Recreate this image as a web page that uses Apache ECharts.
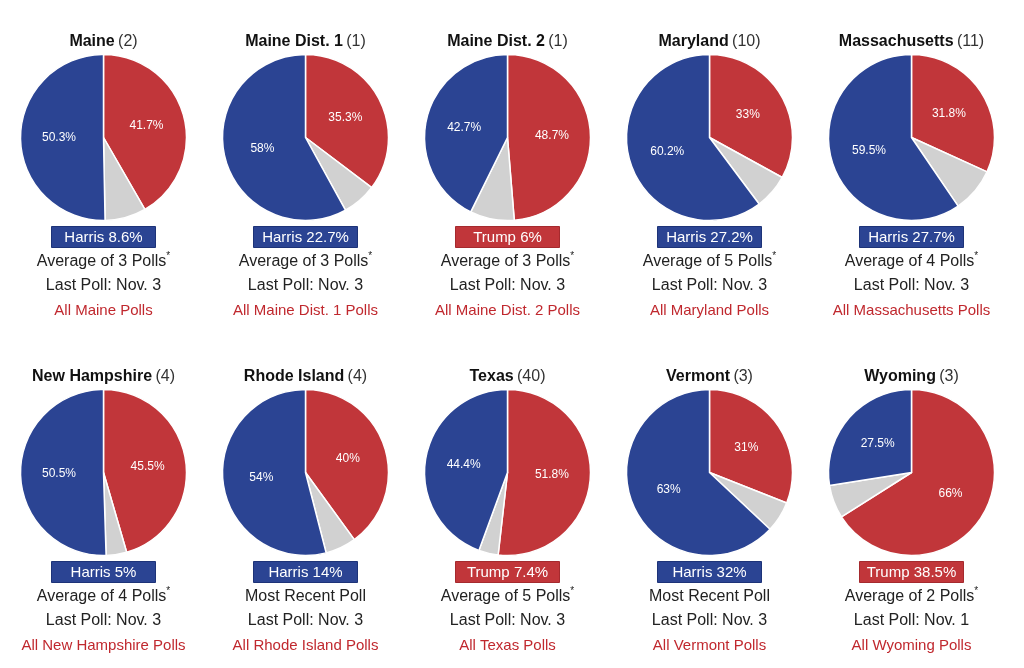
<!DOCTYPE html>
<html>
<head>
<meta charset="utf-8">
<script src="https://cdn.jsdelivr.net/npm/echarts@6/dist/echarts.min.js"></script>
<style>
html,body{margin:0;padding:0;background:#fff;}
#chart{width:1024px;height:668px;}
</style>
</head>
<body>
<div id="chart"></div>
<script>
const states = ['Maine','Maine Dist. 1','Maine Dist. 2','Maryland','Massachusetts','New Hampshire','Rhode Island','Texas','Vermont','Wyoming'];
const electoralVotes = [2,1,1,10,11,4,4,40,3,3];
const trump = [41.7,35.3,48.7,33,31.8,45.5,40,51.8,31,66];
const harris = [50.3,58,42.7,60.2,59.5,50.5,54,44.4,63,27.5];
const pollNotes = ['Average of 3 Polls','Average of 3 Polls','Average of 3 Polls','Average of 5 Polls','Average of 4 Polls','Average of 4 Polls','Most Recent Poll','Average of 5 Polls','Most Recent Poll','Average of 2 Polls'];
const lastPoll = ['Nov. 3','Nov. 3','Nov. 3','Nov. 3','Nov. 3','Nov. 3','Nov. 3','Nov. 3','Nov. 3','Nov. 1'];

const RED = '#c1363a', BLUE = '#2b4493', GRAY = '#d1d1d1';
const FONT = '"Liberation Sans", Arial, sans-serif';

const colX = [103.5, 305.5, 507.5, 709.5, 911.5];
const rowY = [0, 335];

function fmt(v){ return String(+v.toFixed(1)); }

const series = [];
const graphics = [];
states.forEach((name, i) => {
  const cx = colX[i % 5];
  const oy = rowY[Math.floor(i / 5)];
  const other = +(100 - trump[i] - harris[i]).toFixed(1);
  series.push({
    type: 'pie',
    center: [cx, oy + 137.5],
    radius: [0, 83],
    startAngle: 90,
    clockwise: true,
    silent: true,
    animation: false,
    itemStyle: { borderColor: '#fff', borderWidth: 1.5 },
    label: {
      show: true, position: 'inside', color: '#fff', fontSize: 12, fontFamily: FONT,
      formatter: p => p.name === 'Other' ? '' : fmt(p.value) + '%'
    },
    labelLine: { show: false },
    data: [
      { name: 'Trump', value: trump[i], itemStyle: { color: RED } },
      { name: 'Other', value: other, itemStyle: { color: GRAY } },
      { name: 'Harris', value: harris[i], itemStyle: { color: BLUE } }
    ]
  });
  // title
  graphics.push({
    type: 'text', x: cx, y: oy + 42,
    style: {
      text: '{b|' + name + '} {n|(' + electoralVotes[i] + ')}',
      align: 'center', verticalAlign: 'middle',
      rich: {
        b: { fontWeight: 'bold', fontSize: 16, fontFamily: FONT, fill: '#111' },
        n: { fontSize: 16, fontFamily: FONT, fill: '#333' }
      }
    }
  });
  // badge
  const harrisWins = harris[i] > trump[i];
  const margin = Math.abs(harris[i] - trump[i]);
  graphics.push({
    type: 'rect',
    shape: { x: cx - 52, y: oy + 226.5, width: 104, height: 21 },
    style: { fill: harrisWins ? BLUE : RED, stroke: harrisWins ? '#1d3378' : '#a52a2e', lineWidth: 1 }
  });
  graphics.push({
    type: 'text', x: cx, y: oy + 237.5,
    style: {
      text: (harrisWins ? 'Harris ' : 'Trump ') + fmt(margin) + '%',
      align: 'center', verticalAlign: 'middle',
      fill: '#fff', fontSize: 15, fontFamily: FONT
    }
  });
  // note
  const isAvg = pollNotes[i].indexOf('Average') === 0;
  graphics.push({
    type: 'text', x: cx, y: oy + 261.5,
    style: {
      text: '{t|' + pollNotes[i] + '}' + (isAvg ? '{s|*}' : ''),
      align: 'center', verticalAlign: 'middle',
      rich: {
        t: { fontSize: 16, fontFamily: FONT, fill: '#222', lineHeight: 20 },
        s: { fontSize: 10, fontFamily: FONT, fill: '#222', verticalAlign: 'top', lineHeight: 20 }
      }
    }
  });
  graphics.push({
    type: 'text', x: cx, y: oy + 286,
    style: {
      text: 'Last Poll: ' + lastPoll[i],
      align: 'center', verticalAlign: 'middle',
      fill: '#222', fontSize: 16, fontFamily: FONT
    }
  });
  graphics.push({
    type: 'text', x: cx, y: oy + 310.5,
    style: {
      text: 'All ' + name + ' Polls',
      align: 'center', verticalAlign: 'middle',
      fill: '#c0282e', fontSize: 15, fontFamily: FONT
    }
  });
});

const chart = echarts.init(document.getElementById('chart'), null, { renderer: 'canvas' });
chart.setOption({
  backgroundColor: '#fff',
  animation: false,
  series: series,
  graphic: graphics
});
</script>
</body>
</html>
